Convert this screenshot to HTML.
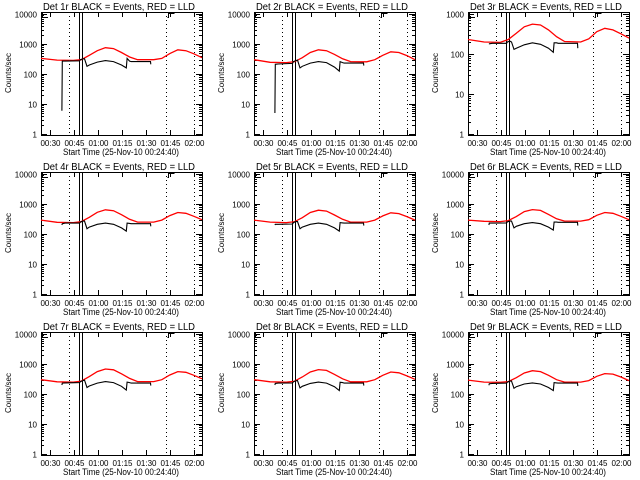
<!DOCTYPE html>
<html><head><meta charset="utf-8">
<style>
html,body{margin:0;padding:0;background:#fff;}
svg{display:block;font-family:"Liberation Sans",sans-serif;}
line,rect{shape-rendering:crispEdges;}
</style></head>
<body>
<svg id="chart" width="640" height="480" viewBox="0 0 640 480"></svg>
<script>
// ---- data ----
const panelNames = ["1r","2r","3r","4r","5r","6r","7r","8r","9r"];
const yMaxes = [10000,10000,1000,10000,10000,10000,10000,10000,10000];
const redTimes = [0,10,20,25,30,35,40,45,50,55,60,70,75,80,85,90,95,100];
const red1 = [330,290,285,300,420,600,750,700,520,370,300,300,330,480,640,600,470,350];
const red2 = [300,245,240,255,350,520,640,600,450,320,260,255,300,420,550,520,410,300];
const red3 = [230,200,195,230,330,480,560,530,400,270,205,200,240,360,440,400,320,250];
const red4 = [290,245,240,260,360,530,640,600,440,310,250,250,290,410,520,490,390,300];
const red5 = [290,250,240,255,350,520,620,580,430,310,250,250,290,400,510,480,380,290];
const red6 = [290,265,260,280,380,560,650,610,450,320,270,270,300,420,520,490,390,300];
const red7 = [300,255,250,270,380,560,680,640,470,330,260,260,300,430,560,530,420,320];
const red8 = [300,255,250,265,370,540,650,610,450,320,255,255,300,420,540,510,400,310];
const red9 = [290,250,245,260,350,500,600,560,420,300,250,250,280,390,480,460,370,280];
const blackTimes = [13,13.2,15,24,24.5,26,27,28.6,30,35,40,45,50,53,53.5,55,56,68,68.2];
const black1 = [6,270,270,275,300,320,320,180,200,250,280,260,200,160,330,270,260,260,210];
const black2 = [5,210,215,225,260,280,290,160,180,230,260,240,170,125,260,240,230,230,190];
const black3 = [180,180,185,185,200,210,200,130,140,170,190,175,140,110,190,190,185,185,140];
const black4 = [200,220,230,230,250,270,270,150,170,210,230,210,160,125,230,225,220,220,180];
const black5 = [200,210,210,215,240,260,260,150,170,210,230,210,160,125,240,235,230,230,190];
const black6 = [200,230,230,235,255,270,270,160,180,220,240,220,170,135,250,250,245,245,190];
const black7 = [200,230,235,240,260,280,290,165,185,230,260,240,180,135,250,240,230,230,190];
const black8 = [200,225,230,235,255,275,280,160,180,225,250,230,175,130,245,240,230,230,190];
const black9 = [195,220,225,230,250,270,270,155,175,215,235,215,165,130,240,235,230,230,185];
const redSets = [red1,red2,red3,red4,red5,red6,red7,red8,red9];
const blackSets = [black1,black2,black3,black4,black5,black6,black7,black8,black9];
const xTickLabels = ["00:30","00:45","01:00","01:15","01:30","01:45","02:00"];
const xTickMinutes = [5.33,20.33,35.33,50.33,65.33,80.33,95.33];
const dottedMinutes = [17.4,77.6,95.3];
const solidMinutes = [23.6,25.5];

// ---- drawing ----
const svg = document.getElementById('chart');
const NS = 'http://www.w3.org/2000/svg';
function mk(tag, attrs, parent){ const e=document.createElementNS(NS,tag); for(const k in attrs) e.setAttribute(k,attrs[k]); parent.appendChild(e); return e; }
const colOff=[0,213,427], rowOff=[0,160,320];
const BX0=41, BX1=202, BY0=12, BY1=135, TMAX=100;

for(let p=0;p<9;p++){
  const ox=colOff[p%3], oy=rowOff[Math.floor(p/3)];
  const g=mk('g',{transform:`translate(${ox},${oy})`},svg);
  
  
  const ymax=yMaxes[p], dec=Math.log10(ymax);
  const xs=t=>BX0+(t/TMAX)*(BX1-BX0);
  const ys=v=>BY1-1-(Math.log10(Math.max(v,1))/dec)*(BY1-BY0-3);
  const tt=mk('text',{x:119,y:10,'font-size':10,'text-anchor':'middle',textLength:152,lengthAdjust:'spacingAndGlyphs'},g);
  tt.textContent='Det '+panelNames[p]+' BLACK = Events, RED = LLD';
  
  
  const box=mk('rect',{x:BX0+0.5,y:BY0+0.5,width:BX1-BX0,height:BY1-BY0,fill:'none',stroke:'#000','stroke-width':1},g);
  
  
  for(let d=0;d<=dec;d++){
    const v=Math.pow(10,d), y=Math.round(ys(v))+0.5;
    mk('line',{x1:BX0,x2:BX0+6,y1:y,y2:y,stroke:'#000'},g);
    mk('line',{x1:BX1,x2:BX1-6,y1:y,y2:y,stroke:'#000'},g);
    const lt=mk('text',{x:37,y:y+3,'font-size':8,'text-anchor':'end'},g);
    lt.textContent=String(v);
    
    
    if(d<dec) for(let m=2;m<=9;m++){ const ym=Math.round(ys(v*m))+0.5;
      mk('line',{x1:BX0,x2:BX0+3,y1:ym,y2:ym,stroke:'#000'},g);
      mk('line',{x1:BX1,x2:BX1-3,y1:ym,y2:ym,stroke:'#000'},g);}
  }
  xTickMinutes.forEach((t,i)=>{
    const x=Math.round(xs(t))+0.5;
    mk('line',{x1:x,x2:x,y1:BY1,y2:BY1-5,stroke:'#000'},g);
    mk('line',{x1:x,x2:x,y1:BY0,y2:BY0+5,stroke:'#000'},g);
    const lt=mk('text',{x:x,y:146,'font-size':8,'text-anchor':'middle'},g);
    lt.textContent=xTickLabels[i];
    
    
  });
  const xt=mk('text',{x:121,y:155,'font-size':9,'text-anchor':'middle',textLength:116,lengthAdjust:'spacingAndGlyphs'},g);
  xt.textContent='Start Time (25-Nov-10 00:24:40)';
  
  
  const yt=mk('text',{x:0,y:0,'font-size':8,'text-anchor':'middle',transform:'translate(11,73) rotate(-90)'},g);
  yt.textContent='Counts/sec';
  
  
  dottedMinutes.forEach(t=>{ const x=Math.round(xs(t))+0.5; const l=mk('line',{x1:x,x2:x,y1:BY0,y2:BY1,stroke:'#000','stroke-dasharray':'1,3'},g);
    
    });
  solidMinutes.forEach(t=>{ const x=Math.round(xs(t))+0.5; const l=mk('line',{x1:x,x2:x,y1:BY0,y2:BY1,stroke:'#000'},g);
    
    });
  mk('path',{d:`M42.5 12 V17.5 H48`,fill:'none',stroke:'#000'},g);
  const bx=Math.round(xs(79))+0.5;
  mk('path',{d:`M${bx-1} 17.5 H${bx} V13.5 H${bx+6}`,fill:'none',stroke:'#000'},g);
  const rp=redTimes.map((t,i)=>`${xs(t).toFixed(1)},${ys(redSets[p][i]).toFixed(1)}`).join(' ');
  const rl=mk('polyline',{points:rp,fill:'none',stroke:'#ff0000','stroke-width':1.3},g);
  
  
  const bp=blackTimes.map((t,i)=>`${xs(t).toFixed(1)},${ys(blackSets[p][i]).toFixed(1)}`).join(' ');
  const bl=mk('polyline',{points:bp,fill:'none',stroke:'#000','stroke-width':1.1},g);
  
  
}
</script>
</body></html>
